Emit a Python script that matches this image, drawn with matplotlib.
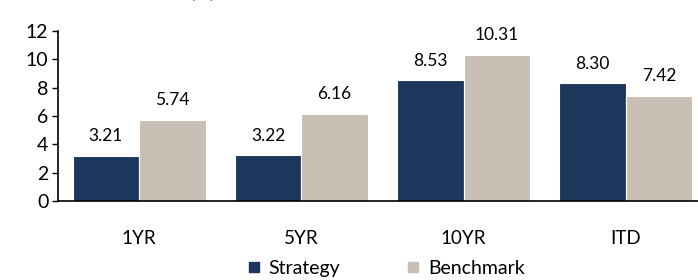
import matplotlib
matplotlib.use("Agg")
import matplotlib.pyplot as plt
from matplotlib.lines import Line2D
import numpy as np

plt.rcParams["font.family"] = ["Lato", "DejaVu Sans"]

# === Dati ===
categories = ["1YR", "5YR", "10YR", "ITD"]
strategy = [3.21, 3.22, 8.53, 8.30]
benchmark = [5.74, 6.16, 10.31, 7.42]

strategy_color = "#1D365C"
benchmark_color = "#C8BEB4"

fig = plt.figure(figsize=(6.98, 2.8), dpi=100)
# asse tagliato a destra come nel riferimento
ax = fig.add_axes([58 / 698, 79 / 280, 649 / 698, 170 / 280])

x = np.arange(len(categories))
w = 0.41
b1 = ax.bar(x - w / 2, strategy, w, color=strategy_color, edgecolor="white", linewidth=0.8)
b2 = ax.bar(x + w / 2, benchmark, w, color=benchmark_color, edgecolor="white", linewidth=0.8)

for bars, vals in ((b1, strategy), (b2, benchmark)):
    for rect, v in zip(bars, vals):
        ax.annotate(f"{v:.2f}", (rect.get_x() + rect.get_width() / 2, v),
                    xytext=(0, 14), textcoords="offset points",
                    ha="center", va="center", fontsize=12.5)

ax.set_xlim(-0.5, 3.5)
ax.set_ylim(0, 12)
ax.set_yticks(range(0, 13, 2))
ax.set_xticks(x)
ax.set_xticklabels(categories)
ax.tick_params(axis="y", direction="out", length=4, width=1, labelsize=14, pad=3)
ax.tick_params(axis="x", length=0, labelsize=13.5, pad=21)

for s in ("top", "right"):
    ax.spines[s].set_visible(False)
ax.spines["left"].set_linewidth(1.2)
ax.spines["bottom"].set_linewidth(1.2)

# titolo tagliato in alto
fig.text(0.29, 1.0, "(%)", ha="center", va="bottom", fontsize=14)

handles = [
    Line2D([], [], marker="s", color="none", markerfacecolor=strategy_color,
           markeredgecolor=strategy_color, markersize=6.5, label="Strategy"),
    Line2D([], [], marker="s", color="none", markerfacecolor=benchmark_color,
           markeredgecolor=benchmark_color, markersize=6.5, label="Benchmark"),
]
fig.legend(handles=handles, loc="center", bbox_to_anchor=(0.553, 0.04), ncol=2,
           frameon=False, fontsize=14, handlelength=0.7, handletextpad=0.4,
           columnspacing=3.4)

fig.savefig("out.png", dpi=100)
